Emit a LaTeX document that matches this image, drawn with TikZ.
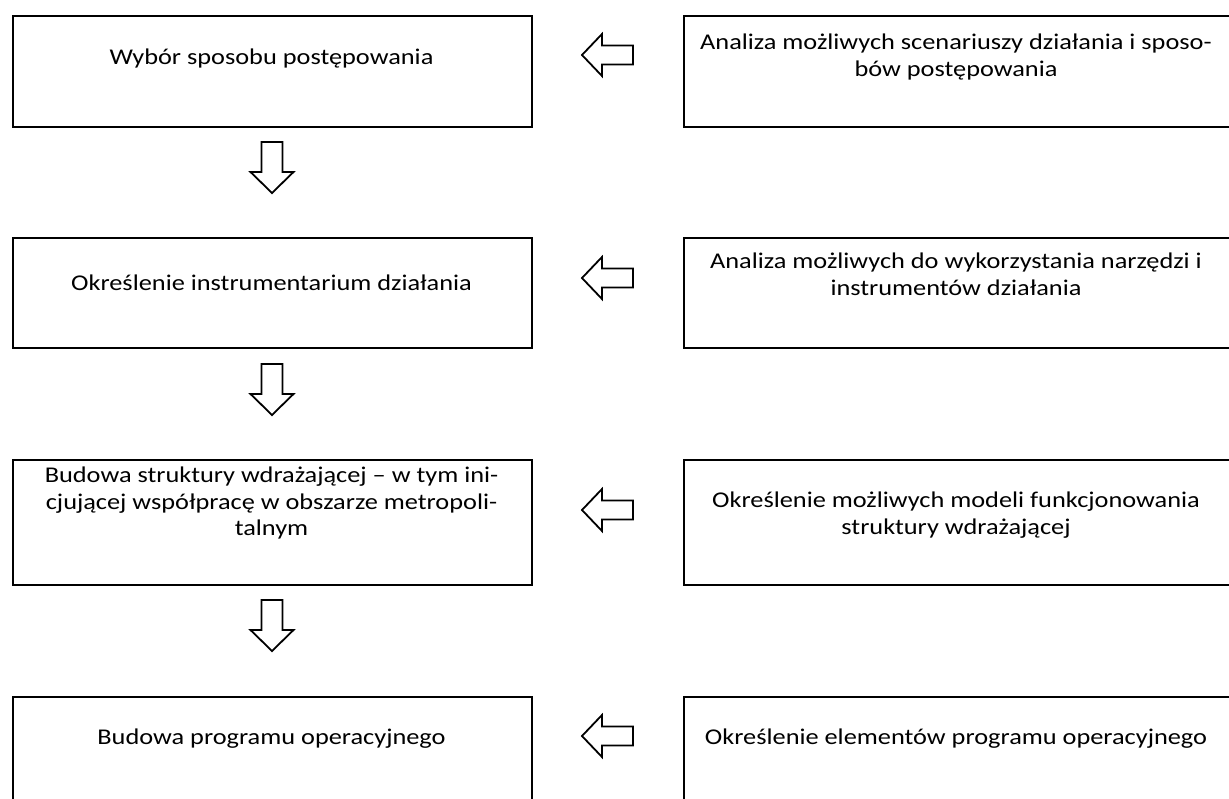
\documentclass[tikz,border=0pt]{standalone}
\usepackage{fontspec}
\setmainfont{Carlito}[FakeStretch=1.17]
\begin{document}
\begin{tikzpicture}[x=1pt,y=-1pt,
  box/.style={draw, line width=2pt, inner sep=0pt, anchor=north west},
  txt/.style={font=\fontsize{22.5}{26.5}\selectfont, align=center, inner sep=0pt, anchor=north},
  blockarrow/.style={draw, line width=1.8pt, fill=white, line join=miter},
  leftarrow/.pic={\draw[blockarrow] (0,0) -- ++(20,-21) -- ++(0,11.5) -- ++(31,0) -- ++(0,19) -- ++(-31,0) -- ++(0,11.5) -- cycle;},
  downarrow/.pic={\draw[blockarrow] (0,0) -- ++(-21.5,-21) -- ++(11,0) -- ++(0,-30) -- ++(21,0) -- ++(0,30) -- ++(11,0) -- cycle;}
]
\useasboundingbox (0,0) rectangle (1229,798);

% left column boxes
\node[box, minimum width=519pt, minimum height=111pt] (L1) at (12,15) {};
\node[box, minimum width=519pt, minimum height=110pt] (L2) at (12,237) {};
\node[box, minimum width=519pt, minimum height=125pt] (L3) at (12,459) {};
\node[box, minimum width=519pt, minimum height=130pt] (L4) at (12,696) {};

% right column boxes
\node[box, minimum width=547pt, minimum height=111pt] (R1) at (683,15) {};
\node[box, minimum width=547pt, minimum height=110pt] (R2) at (683,237) {};
\node[box, minimum width=547pt, minimum height=125pt] (R3) at (683,459) {};
\node[box, minimum width=547pt, minimum height=130pt] (R4) at (683,696) {};

% texts
\node[txt] (tL1) at (271.5,49) {Wybór sposobu postępowania};
\node[txt] (tR1) at (956,34) {Analiza możliwych scenariuszy działania i sposo-\\bów postępowania};
\node[txt] (tL2) at (271.5,275) {Określenie instrumentarium działania};
\node[txt] (tR2) at (956,253) {Analiza możliwych do wykorzystania narzędzi i\\instrumentów działania};
\node[txt] (tL3) at (271.5,467) {Budowa struktury wdrażającej – w tym ini-\\cjującej współpracę w obszarze metropoli-\\talnym};
\node[txt] (tR3) at (956,492) {Określenie możliwych modeli funkcjonowania\\struktury wdrażającej};
\node[txt] (tL4) at (271.5,729) {Budowa programu operacyjnego};
\node[txt] (tR4) at (956,729) {Określenie elementów programu operacyjnego};

% horizontal block arrows (pointing left)
\coordinate (a1) at (582,55);
\coordinate (a2) at (582,278);
\coordinate (a3) at (582,510);
\coordinate (a4) at (582,736);
\pic at (a1) {leftarrow};
\pic at (a2) {leftarrow};
\pic at (a3) {leftarrow};
\pic at (a4) {leftarrow};

% vertical block arrows (pointing down), given by their tips
\coordinate (d1) at (272,193);
\coordinate (d2) at (272,415);
\coordinate (d3) at (272,651);
\pic at (d1) {downarrow};
\pic at (d2) {downarrow};
\pic at (d3) {downarrow};
\end{tikzpicture}
\end{document}
